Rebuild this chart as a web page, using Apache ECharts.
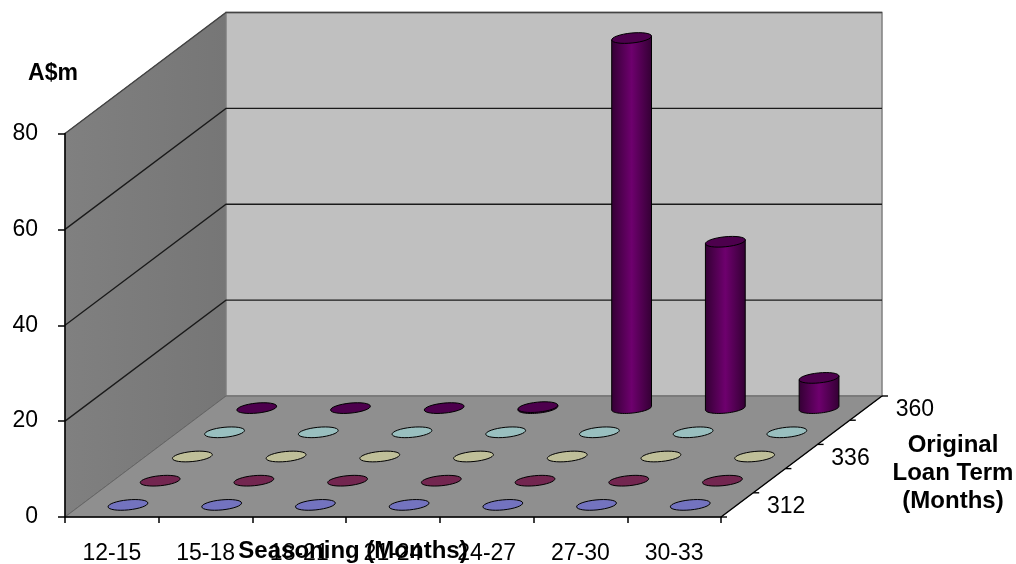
<!DOCTYPE html>
<html>
<head>
<meta charset="utf-8">
<style>html,body{margin:0;padding:0;background:#fff}#main{width:1016px;height:564px}</style>
<script src="https://cdn.jsdelivr.net/npm/echarts@6/dist/echarts.min.js"></script>
</head>
<body>
<div id="main"></div>
<script>
var seasoning = ['12-15', '15-18', '18-21', '21-24', '24-27', '27-30', '30-33'];
var terms = [312, 324, 336, 348, 360];
var termLabels = [312, 336, 360];
var valueTicks = [0, 20, 40, 60, 80];

// one list per loan term, A$m
var values312 = [0, 0, 0, 0, 0, 0, 0];
var values324 = [0, 0, 0, 0, 0, 0, 0];
var values336 = [0, 0, 0, 0, 0, 0, 0];
var values348 = [0, 0, 0, 0, 0, 0, 0];
var values360 = [0, 0, 0, 0.2, 77.2, 34.7, 6.3];
var rows = [values312, values324, values336, values348, values360];

var sideColors = ['#9999ff', '#993366', '#ffffcc', '#ccffff', '#6e006e'];
var capColors = ['#7373bf', '#732650', '#bfbf99', '#99bfbf', '#4d004d'];
var edgeColors = ['#45457a', '#451f30', '#73735c', '#5c7373', '#330033'];

var FONT = '"Liberation Sans", Arial, sans-serif';
var DEPTH_X = 161, DEPTH_Y = -121;   // oblique vector of the whole floor depth
var RX = 20, RY = 5, TILT = 0.1;

function project(api, x, v, d) {
    var p = api.coord([x, v]);
    return [p[0] + DEPTH_X * d, p[1] + DEPTH_Y * d];
}

function ellipsePoints(cx, cy, from, to) {
    var pts = [];
    for (var i = 0; i <= 32; i++) {
        var t = from + (to - from) * i / 32;
        pts.push([
            cx + RX * Math.cos(t) * Math.cos(TILT) + RY * Math.sin(t) * Math.sin(TILT),
            cy - RX * Math.cos(t) * Math.sin(TILT) + RY * Math.sin(t) * Math.cos(TILT)
        ]);
    }
    return pts;
}

function renderWalls(params, api) {
    var a = function (x, v, d) { return project(api, x, v, d); };
    var top = valueTicks[valueTicks.length - 1];
    var children = [
        {
            type: 'polygon',
            shape: { points: [a(0, 0, 0), a(0, top, 0), a(0, top, 1), a(0, 0, 1)] },
            style: {
                fill: { type: 'linear', x: 0, y: 0, x2: 1, y2: 0, colorStops: [{ offset: 0, color: '#808080' }, { offset: 1, color: '#767676' }] },
                stroke: '#5a5a5a', lineWidth: 1
            }
        },
        {
            type: 'polygon',
            shape: { points: [a(0, 0, 1), a(0, top, 1), a(7, top, 1), a(7, 0, 1)] },
            style: { fill: '#c0c0c0', stroke: '#808080', lineWidth: 1.5 }
        },
        {
            type: 'polygon',
            shape: { points: [a(0, 0, 0), a(7, 0, 0), a(7, 0, 1), a(0, 0, 1)] },
            style: { fill: '#8f8f8f', stroke: '#666', lineWidth: 1 }
        }
    ];
    valueTicks.forEach(function (v) {
        if (v === 0) return;
        children.push({
            type: 'polyline',
            shape: { points: [a(0, v, 0), a(0, v, 1), a(7, v, 1)] },
            style: { fill: 'none', stroke: v === top ? '#444' : '#1a1a1a', lineWidth: 1.3 }
        });
    });
    // right floor edge with its depth ticks
    children.push({
        type: 'line',
        shape: { x1: a(7, 0, 0)[0], y1: a(7, 0, 0)[1], x2: a(7, 0, 1)[0], y2: a(7, 0, 1)[1] },
        style: { stroke: '#000', lineWidth: 1.4 }
    });
    for (var i = 0; i <= terms.length; i++) {
        var t = a(7, 0, i / terms.length);
        children.push({
            type: 'line',
            shape: { x1: t[0], y1: t[1], x2: t[0] + 6, y2: t[1] },
            style: { stroke: '#000', lineWidth: 1.4 }
        });
    }
    terms.forEach(function (term, i) {
        if (termLabels.indexOf(term) < 0) return;
        var t = a(7, 0, (i + 0.5) / terms.length);
        children.push({
            type: 'text',
            style: {
                text: String(term), x: t[0] + 49, y: t[1] + 2,
                fontSize: 23, fontFamily: FONT, fill: '#000',
                align: 'center', verticalAlign: 'middle'
            }
        });
    });
    return { type: 'group', children: children };
}

function makeRenderBar(rowIndex) {
    return function (params, api) {
        var col = api.value(0), v = api.value(1);
        var d = (rowIndex + 0.5) / terms.length;
        var base = project(api, col + 0.5, 0, d);
        var top = project(api, col + 0.5, v, d);
        var children = [];
        if (v > 0) {
            var arc = ellipsePoints(base[0], base[1], 0, Math.PI);
            var upper = ellipsePoints(top[0], top[1], 0, Math.PI);
            var body = [upper[0]].concat(arc, [upper[32]]);
            children.push({
                type: 'polygon',
                shape: { points: body },
                style: {
                    fill: {
                        type: 'linear', x: 0, y: 0, x2: 1, y2: 0,
                        colorStops: [
                            { offset: 0, color: edgeColors[rowIndex] },
                            { offset: 0.5, color: sideColors[rowIndex] },
                            { offset: 1, color: edgeColors[rowIndex] }
                        ]
                    },
                    stroke: '#000', lineWidth: 1
                }
            });
        }
        children.push({
            type: 'polygon',
            shape: { points: ellipsePoints(top[0], top[1], 0, Math.PI * 2) },
            style: { fill: capColors[rowIndex], stroke: '#000', lineWidth: 1 }
        });
        return { type: 'group', children: children };
    };
}

var series = [{
    type: 'custom',
    xAxisIndex: 1,
    silent: true,
    data: [[0, 0]],
    encode: { x: 0, y: 1 },
    renderItem: renderWalls
}];
// back row first so front rows paint over it
for (var r = rows.length - 1; r >= 0; r--) {
    series.push({
        type: 'custom',
        name: String(terms[r]),
        xAxisIndex: 1,
        data: rows[r].map(function (v, c) { return [c, v]; }),
        encode: { x: 0, y: 1 },
        renderItem: makeRenderBar(r)
    });
}

var chart = echarts.init(document.getElementById('main'));
chart.setOption({
    animation: false,
    backgroundColor: '#fff',
    textStyle: { fontFamily: FONT },
    grid: { left: 65, right: 295, top: 133.5, bottom: 47, outerBoundsMode: 'none' },
    xAxis: [
        {
            type: 'category',
            data: seasoning,
            z: 5,
            name: 'Seasoning (Months)',
            nameLocation: 'middle',
            nameGap: 34,
            nameMoveOverlap: false,
            nameTextStyle: { fontSize: 24, fontWeight: 'bold', color: '#000', fontFamily: FONT, verticalAlign: 'middle', padding: [0, 80, 0, 0] },
            axisLine: { show: true, lineStyle: { color: '#000', width: 1.5 } },
            axisTick: { show: true, interval: 0, length: 6, lineStyle: { color: '#000', width: 1.5 } },
            axisLabel: { fontSize: 23, color: '#000', fontFamily: FONT, margin: 37, verticalAlign: 'middle', interval: 0, hideOverlap: false }
        },
        { type: 'value', min: 0, max: 7, show: false }
    ],
    yAxis: {
        type: 'value',
        min: 0,
        max: 80,
        interval: 20,
        z: 5,
        name: 'A$m',
        nameLocation: 'end',
        nameGap: 60,
        nameTextStyle: { fontSize: 23, fontWeight: 'bold', color: '#000', fontFamily: FONT, align: 'center', verticalAlign: 'middle', padding: [0, 24, 0, 0] },
        splitLine: { show: false },
        axisLine: { show: true, lineStyle: { color: '#000', width: 1.5 } },
        axisTick: { show: true, length: 7, lineStyle: { color: '#000', width: 1.5 } },
        axisLabel: { fontSize: 23, color: '#000', fontFamily: FONT, margin: 27 }
    },
    graphic: [{
        type: 'text',
        x: 953,
        y: 473,
        style: {
            text: 'Original\nLoan Term\n(Months)',
            fontSize: 24,
            fontWeight: 'bold',
            fontFamily: FONT,
            fill: '#000',
            lineHeight: 28,
            align: 'center',
            verticalAlign: 'middle'
        }
    }],
    series: series
});
</script>
</body>
</html>
